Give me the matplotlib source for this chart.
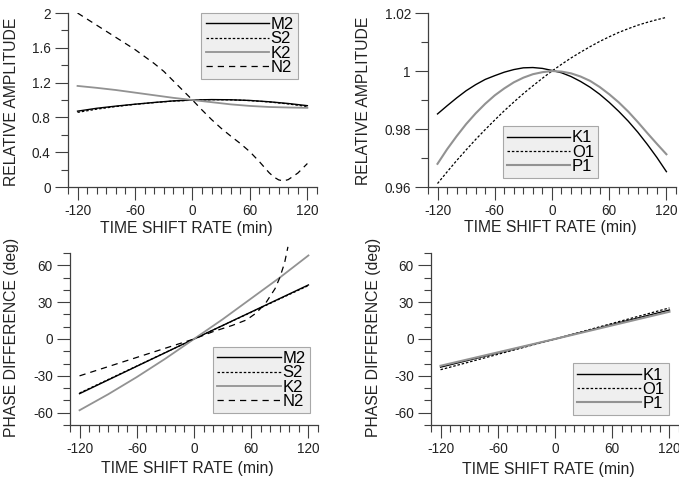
import matplotlib
matplotlib.use("Agg")
import matplotlib.pyplot as plt
from matplotlib.ticker import MultipleLocator, FormatStrFormatter

plt.rcParams['font.family'] = ['Liberation Sans', 'DejaVu Sans']
plt.rcParams['axes.unicode_minus'] = False

# time shift rate (min)
t20 = [-120, -100, -80, -60, -40, -20, 0, 20, 40, 60, 80, 100, 120]
t10 = [-120, -110, -100, -90, -80, -70, -60, -50, -40, -30, -20, -10, 0,
       10, 20, 30, 40, 50, 60, 70, 80, 90, 100, 110, 120]

# semidiurnal relative amplitude
m2_amp = [0.872, 0.905, 0.93, 0.952, 0.972, 0.99, 1.0, 1.005, 1.003, 0.995, 0.98, 0.96, 0.935]
s2_amp = [0.858, 0.895, 0.925, 0.95, 0.97, 0.988, 0.998, 1.004, 1.002, 0.993, 0.978, 0.955, 0.925]
k2_amp = [1.162, 1.14, 1.115, 1.085, 1.055, 1.025, 1.0, 0.975, 0.95, 0.932, 0.92, 0.914, 0.91]
t_n2 = [-120, -100, -80, -60, -40, -30, -20, -10, 0, 10, 20, 30, 40, 50, 60, 70, 80, 85, 90, 95, 100, 110, 120]
n2_amp = [2.0, 1.86, 1.72, 1.58, 1.42, 1.33, 1.22, 1.11, 1.0, 0.885, 0.775, 0.675, 0.585, 0.5, 0.405, 0.29,
          0.165, 0.115, 0.082, 0.07, 0.085, 0.16, 0.27]

# diurnal relative amplitude
k1_amp = [0.9852, 0.988, 0.9907, 0.9932, 0.9953, 0.9971, 0.9984, 0.9996, 1.0005, 1.0011, 1.0012, 1.0009, 1.0002,
          0.9994, 0.9981, 0.9964, 0.9944, 0.992, 0.9892, 0.9861, 0.9827, 0.9789, 0.9747, 0.9702, 0.9653]
o1_amp = [0.9612, 0.9652, 0.9691, 0.9728, 0.9764, 0.9798, 0.9831, 0.9863, 0.9893, 0.9922, 0.9949, 0.9975, 1.0,
          1.0023, 1.0045, 1.0065, 1.0084, 1.0102, 1.0118, 1.0133, 1.0146, 1.0158, 1.0168, 1.0177, 1.0185]
p1_amp = [0.968, 0.973, 0.9775, 0.9817, 0.9854, 0.9887, 0.9916, 0.994, 0.9961, 0.9977, 0.9989, 0.9996, 1.0,
          0.9998, 0.9992, 0.9981, 0.9966, 0.9945, 0.992, 0.9892, 0.986, 0.9824, 0.9786, 0.9749, 0.9713]

# phase difference (deg)
t_lin = [-120, -60, 0, 60, 120]
m2_ph = [-44.5, -22.2, 0, 22, 44]
s2_ph = [-44.0, -22.0, 0, 21.8, 43.5]
t_k2 = [-120, -90, -60, -30, 0, 30, 60, 90, 120]
k2_ph = [-58, -45, -31, -16, 0, 16, 33, 50, 68]
t_n2p = [-120, -90, -60, -30, 0, 20, 40, 55, 65, 75, 85, 90, 95, 98.5]
n2_ph = [-30, -22.5, -15, -7.5, 0, 6, 11, 15.5, 21, 29, 41, 50, 62, 75]
k1_ph = [-22.9, -11.4, 0, 11.8, 23.6]
o1_ph = [-25.0, -12.5, 0, 12.7, 25.3]
p1_ph = [-21.8, -10.9, 0, 11.1, 22.2]

GRAY = '#929292'
AX = '#404040'

fig = plt.figure(figsize=(6.79, 4.84), dpi=100)
ax_tl = fig.add_axes([0.1001, 0.6136, 0.3667, 0.3595])
ax_tr = fig.add_axes([0.6303, 0.6136, 0.3652, 0.3595])
ax_bl = fig.add_axes([0.1031, 0.1219, 0.3652, 0.3554])
ax_br = fig.add_axes([0.6348, 0.1219, 0.3652, 0.3554])


def style(ax, ylim, ymaj, ymin, yfmt):
	ax.set_xlim(-130, 130)
	ax.set_ylim(*ylim)
	ax.spines['top'].set_visible(False)
	ax.spines['right'].set_visible(False)
	for s in ['left', 'bottom']:
		ax.spines[s].set_color(AX)
		ax.spines[s].set_linewidth(0.9)
	ax.xaxis.set_major_locator(MultipleLocator(60))
	ax.xaxis.set_minor_locator(MultipleLocator(10))
	ax.yaxis.set_major_locator(MultipleLocator(ymaj))
	ax.yaxis.set_minor_locator(MultipleLocator(ymin))
	ax.yaxis.set_major_formatter(FormatStrFormatter(yfmt))
	ax.tick_params(which='major', length=9.4, width=0.8, color=AX, labelsize=9.8, labelcolor='#222222')
	ax.tick_params(which='minor', length=5, width=0.8, color=AX)
	ax.tick_params(axis='x', which='major', pad=3)
	ax.tick_params(axis='y', which='major', pad=3)
	ax.set_xlabel('TIME SHIFT RATE (min)', fontsize=11.3, color='#222222', va='center')


def legend(ax, **kw):
	leg = ax.legend(fontsize=12, frameon=True, fancybox=False, borderaxespad=0,
					handlelength=3.8, handletextpad=0.1, labelspacing=-0.05,
					borderpad=0.25, **kw)
	fr = leg.get_frame()
	fr.set_facecolor('#efefef')
	fr.set_edgecolor('#a8a8a8')
	fr.set_linewidth(0.8)
	fr.set_alpha(1)


# top left
ax = ax_tl
ax.plot(t20, m2_amp, color='black', lw=1.0, label='M2')
ax.plot(t20, s2_amp, color='black', lw=0.9, ls=(0, (2, 1.5)), label='S2')
ax.plot(t20, k2_amp, color=GRAY, lw=1.3, label='K2')
ax.plot(t_n2, n2_amp, color='black', lw=0.9, ls=(0, (5, 4)), label='N2')
style(ax, (0, 2), 0.4, 0.2, '%g')
ax.set_ylabel('RELATIVE AMPLITUDE', fontsize=11.3, color='#222222', va='center')
ax.yaxis.set_label_coords(-0.225, 0.489)
ax.xaxis.set_label_coords(0.477, -0.241)
legend(ax, loc='upper right', bbox_to_anchor=(0.924, 1.0))

# top right
ax = ax_tr
ax.plot(t10, k1_amp, color='black', lw=1.0, label='K1')
ax.plot(t10, o1_amp, color='black', lw=0.9, ls=(0, (2, 1.5)), label='O1')
ax.plot(t10, p1_amp, color=GRAY, lw=1.5, label='P1')
style(ax, (0.96, 1.02), 0.02, 0.01, '%g')
ax.set_ylabel('RELATIVE AMPLITUDE', fontsize=11.3, color='#222222', va='center')
ax.yaxis.set_label_coords(-0.262, 0.494)
ax.xaxis.set_label_coords(0.494, -0.23)
legend(ax, loc='lower left', bbox_to_anchor=(0.302, 0.052))

# bottom left
ax = ax_bl
ax.plot(t_lin, m2_ph, color='black', lw=1.0, label='M2')
ax.plot(t_lin, s2_ph, color='black', lw=0.9, ls=(0, (2, 1.5)), label='S2')
ax.plot(t_k2, k2_ph, color=GRAY, lw=1.3, label='K2')
ax.plot(t_n2p, n2_ph, color='black', lw=0.9, ls=(0, (5, 4)), label='N2', clip_on=False)
style(ax, (-70, 70), 30, 10, '%d')
ax.set_ylabel('PHASE DIFFERENCE (deg)', fontsize=11.3, color='#222222', va='center')
ax.yaxis.set_label_coords(-0.234, 0.509)
ax.xaxis.set_label_coords(0.474, -0.25)
legend(ax, loc='lower left', bbox_to_anchor=(0.577, 0.07))

# bottom right
ax = ax_br
ax.plot(t_lin, k1_ph, color='black', lw=1.0, label='K1')
ax.plot(t_lin, o1_ph, color='black', lw=0.9, ls=(0, (2, 1.5)), label='O1')
ax.plot(t_lin, p1_ph, color=GRAY, lw=1.5, label='P1')
style(ax, (-70, 70), 30, 10, '%d')
ax.set_ylabel('PHASE DIFFERENCE (deg)', fontsize=11.3, color='#222222', va='center')
ax.yaxis.set_label_coords(-0.234, 0.509)
ax.xaxis.set_label_coords(0.474, -0.256)
legend(ax, loc='lower left', bbox_to_anchor=(0.573, 0.058))

fig.savefig('out.png', dpi=100)
